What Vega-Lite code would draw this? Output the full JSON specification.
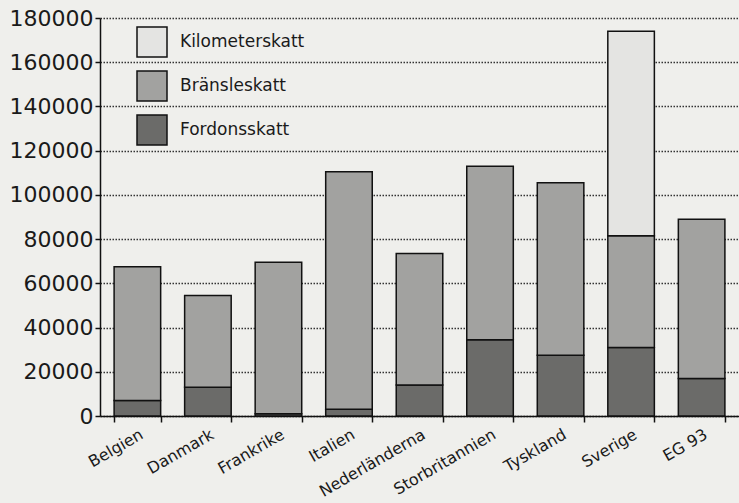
{
  "$schema": "https://vega.github.io/schema/vega-lite/v6.json",
  "width": 639,
  "height": 398,
  "autosize": {"type": "none"},
  "padding": {"left": 100, "top": 18, "right": 0, "bottom": 87},
  "background": "#efefec",
  "config": {
    "view": {"stroke": null},
    "font": "DejaVu Sans"
  },
  "data": {
    "values": [
      {"land": "Belgien", "skatt": "Fordonsskatt", "ord": 1, "belopp": 7000},
      {"land": "Belgien", "skatt": "Bränsleskatt", "ord": 2, "belopp": 60500},
      {"land": "Danmark", "skatt": "Fordonsskatt", "ord": 1, "belopp": 13000},
      {"land": "Danmark", "skatt": "Bränsleskatt", "ord": 2, "belopp": 41500},
      {"land": "Frankrike", "skatt": "Fordonsskatt", "ord": 1, "belopp": 1000},
      {"land": "Frankrike", "skatt": "Bränsleskatt", "ord": 2, "belopp": 68500},
      {"land": "Italien", "skatt": "Fordonsskatt", "ord": 1, "belopp": 3000},
      {"land": "Italien", "skatt": "Bränsleskatt", "ord": 2, "belopp": 107500},
      {"land": "Nederländerna", "skatt": "Fordonsskatt", "ord": 1, "belopp": 14000},
      {"land": "Nederländerna", "skatt": "Bränsleskatt", "ord": 2, "belopp": 59500},
      {"land": "Storbritannien", "skatt": "Fordonsskatt", "ord": 1, "belopp": 34500},
      {"land": "Storbritannien", "skatt": "Bränsleskatt", "ord": 2, "belopp": 78500},
      {"land": "Tyskland", "skatt": "Fordonsskatt", "ord": 1, "belopp": 27500},
      {"land": "Tyskland", "skatt": "Bränsleskatt", "ord": 2, "belopp": 78000},
      {"land": "Sverige", "skatt": "Fordonsskatt", "ord": 1, "belopp": 31000},
      {"land": "Sverige", "skatt": "Bränsleskatt", "ord": 2, "belopp": 50500},
      {"land": "Sverige", "skatt": "Kilometerskatt", "ord": 3, "belopp": 92500},
      {"land": "EG 93", "skatt": "Fordonsskatt", "ord": 1, "belopp": 17000},
      {"land": "EG 93", "skatt": "Bränsleskatt", "ord": 2, "belopp": 72000}
    ]
  },
  "mark": {"type": "bar", "stroke": "#111", "strokeWidth": 1.5},
  "encoding": {
    "x": {
      "field": "land",
      "type": "nominal",
      "sort": null,
      "title": null,
      "scale": {"paddingInner": 0.34, "paddingOuter": 0.2},
      "axis": {
        "labelAngle": -30,
        "labelFontSize": 16,
        "labelColor": "#1a1a1a",
        "labelPadding": 4,
        "tickBand": "extent",
        "tickSize": 6,
        "tickColor": "#111",
        "tickWidth": 1.5,
        "domainColor": "#111",
        "domainWidth": 1.5
      }
    },
    "y": {
      "field": "belopp",
      "type": "quantitative",
      "stack": "zero",
      "title": null,
      "scale": {"domain": [0, 180000], "nice": false},
      "axis": {
        "values": [0, 20000, 40000, 60000, 80000, 100000, 120000, 140000, 160000, 180000],
        "format": "d",
        "labelFontSize": 22,
        "labelColor": "#1a1a1a",
        "labelPadding": 2,
        "tickSize": 5,
        "tickColor": "#111",
        "tickWidth": 1.5,
        "domainColor": "#111",
        "domainWidth": 1.5,
        "grid": true,
        "gridColor": "#333",
        "gridDash": [1.5, 1.5],
        "gridWidth": 1.3
      }
    },
    "color": {
      "field": "skatt",
      "type": "nominal",
      "scale": {
        "domain": ["Kilometerskatt", "Bränsleskatt", "Fordonsskatt"],
        "range": ["#e4e4e2", "#a2a2a0", "#6b6b69"]
      },
      "legend": {
        "title": null,
        "orient": "none",
        "legendX": 36,
        "legendY": 8,
        "symbolType": "square",
        "symbolSize": 900,
        "symbolStrokeColor": "#111",
        "symbolStrokeWidth": 1.5,
        "symbolOpacity": 1,
        "rowPadding": 8,
        "labelFontSize": 17,
        "labelColor": "#1a1a1a",
        "labelOffset": 12
      }
    },
    "order": {"field": "ord", "type": "quantitative"}
  }
}
